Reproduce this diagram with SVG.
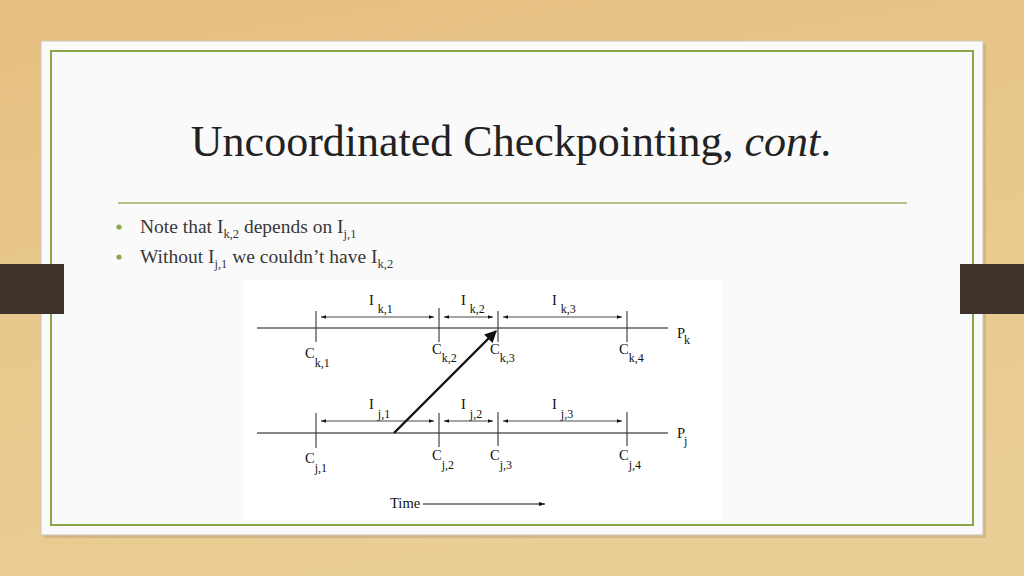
<svg xmlns="http://www.w3.org/2000/svg" width="1024" height="576" viewBox="0 0 1024 576">
<style>
.t{font-family:"Liberation Serif","DejaVu Serif",serif;fill:#222}
.b{fill:#383838}
.d{font-family:"Liberation Serif","DejaVu Serif",serif;fill:#111;font-size:14.5px}
.s{font-size:12px}
.ln{stroke:#111;stroke-width:1.2;fill:none}
.tk{stroke:#333;stroke-width:1.1}
.iv{stroke:#333;stroke-width:0.9;fill:none;marker-start:url(#ah);marker-end:url(#ah)}
</style>
<defs>
<linearGradient id="wood" x1="0" y1="0" x2="0.3" y2="1">
<stop offset="0" stop-color="#e6bf80"/>
<stop offset="0.5" stop-color="#e8c88c"/>
<stop offset="1" stop-color="#eacd94"/>
</linearGradient>
<marker id="ah" viewBox="0 0 10 10" refX="10" refY="5" markerWidth="7" markerHeight="5" orient="auto-start-reverse" markerUnits="userSpaceOnUse">
<path d="M0,1.5 L10,5 L0,8.5 z" fill="#111"/>
</marker>
<marker id="big" viewBox="0 0 10 10" refX="9" refY="5" markerWidth="14" markerHeight="12" orient="auto" markerUnits="userSpaceOnUse">
<path d="M0,0 L10,5 L0,10 z" fill="#111"/>
</marker>
<marker id="tm" viewBox="0 0 10 10" refX="10" refY="5" markerWidth="10" markerHeight="6" orient="auto" markerUnits="userSpaceOnUse">
<path d="M0,1.5 L10,5 L0,8.5 z" fill="#111"/>
</marker>
</defs>

<rect width="1024" height="576" fill="url(#wood)"/>
<rect x="44" y="44" width="942" height="494" fill="#b9a27a" opacity="0.5"/>
<rect x="41" y="41" width="942" height="494" fill="#fafafa" stroke="#cfc6b4" stroke-width="1"/>
<rect x="51" y="51" width="922" height="474" fill="none" stroke="#8aa84a" stroke-width="2"/>
<rect x="0" y="264" width="64" height="50" fill="#3e322a"/>
<rect x="960" y="264" width="64" height="50" fill="#3e322a"/>

<g id="title">
<text class="t" x="511" y="156" text-anchor="middle" font-size="44">Uncoordinated Checkpointing, <tspan font-style="italic">cont</tspan>.</text>
</g>
<line x1="118" y1="203" x2="907" y2="203" stroke="#9bb060" stroke-width="1.5"/>

<g id="bullets">
<circle cx="119" cy="227" r="2.6" fill="#8aa84a"/>
<circle cx="119" cy="257" r="2.6" fill="#8aa84a"/>
<text class="t b" x="140" y="233" font-size="19.5">Note that I<tspan font-size="12.5" dy="5">k,2</tspan><tspan dy="-5"> depends on I</tspan><tspan font-size="12.5" dy="5">j,1</tspan></text>
<text class="t b" x="140" y="263" font-size="19.5">Without I<tspan font-size="12.5" dy="5">j,1</tspan><tspan dy="-5">  we couldn’t have I</tspan><tspan font-size="12.5" dy="5">k,2</tspan></text>
</g>

<g id="figure">
<rect x="244" y="280" width="478" height="240" fill="#ffffff"/>

<g id="process-k">
<line class="ln" x1="257" y1="328" x2="668" y2="328"/>
<text class="d" x="677" y="338">P<tspan class="s" dx="-1" dy="6">k</tspan></text>
</g>
<g id="process-j">
<line class="ln" x1="257" y1="433" x2="668" y2="433"/>
<text class="d" x="677" y="438">P<tspan class="s" dx="-1" dy="7">j</tspan></text>
</g>

<g id="checkpoints-k">
<line class="tk" x1="316" y1="311" x2="316" y2="342"/>
<line class="tk" x1="439" y1="308" x2="439" y2="342"/>
<line class="tk" x1="498" y1="311" x2="498" y2="342"/>
<line class="tk" x1="627" y1="311" x2="627" y2="342"/>
<text class="d" x="305" y="358">C<tspan class="s" dy="9">k,1</tspan></text>
<text class="d" x="432" y="354">C<tspan class="s" dy="8">k,2</tspan></text>
<text class="d" x="490" y="354">C<tspan class="s" dy="8">k,3</tspan></text>
<text class="d" x="619" y="354">C<tspan class="s" dy="8">k,4</tspan></text>
</g>

<g id="checkpoints-j">
<line class="tk" x1="316" y1="413" x2="316" y2="448"/>
<line class="tk" x1="439" y1="413" x2="439" y2="447"/>
<line class="tk" x1="498" y1="412" x2="498" y2="446"/>
<line class="tk" x1="627" y1="412" x2="627" y2="446"/>
<text class="d" x="305" y="463">C<tspan class="s" dy="9">j,1</tspan></text>
<text class="d" x="432" y="460">C<tspan class="s" dy="9">j,2</tspan></text>
<text class="d" x="490" y="460">C<tspan class="s" dy="9">j,3</tspan></text>
<text class="d" x="619" y="460">C<tspan class="s" dy="9">j,4</tspan></text>
</g>

<g id="intervals-k">
<line class="iv" x1="321" y1="317" x2="434" y2="317"/>
<line class="iv" x1="444" y1="317" x2="493" y2="317"/>
<line class="iv" x1="503" y1="317" x2="622" y2="317"/>
<text class="d" x="369" y="305">I<tspan class="s" dx="4" dy="8">k,1</tspan></text>
<text class="d" x="461" y="305">I<tspan class="s" dx="4" dy="8">k,2</tspan></text>
<text class="d" x="552" y="305">I<tspan class="s" dx="4" dy="8">k,3</tspan></text>
</g>

<g id="intervals-j">
<line class="iv" x1="321" y1="421" x2="434" y2="421"/>
<line class="iv" x1="444" y1="421" x2="493" y2="421"/>
<line class="iv" x1="503" y1="421" x2="622" y2="421"/>
<text class="d" x="369" y="409">I<tspan class="s" dx="4" dy="9">j,1</tspan></text>
<text class="d" x="461" y="409">I<tspan class="s" dx="4" dy="9">j,2</tspan></text>
<text class="d" x="552" y="409">I<tspan class="s" dx="4" dy="9">j,3</tspan></text>
</g>

<g id="connectors">
<line x1="394" y1="433" x2="496" y2="331" stroke="#111" stroke-width="2.4" marker-end="url(#big)"/>
</g>

<g id="time">
<text class="d" x="390" y="508" font-size="12.5">Time</text>
<line x1="423" y1="504" x2="545" y2="504" stroke="#111" stroke-width="1" marker-end="url(#tm)"/>
</g>
</g>
</svg>
